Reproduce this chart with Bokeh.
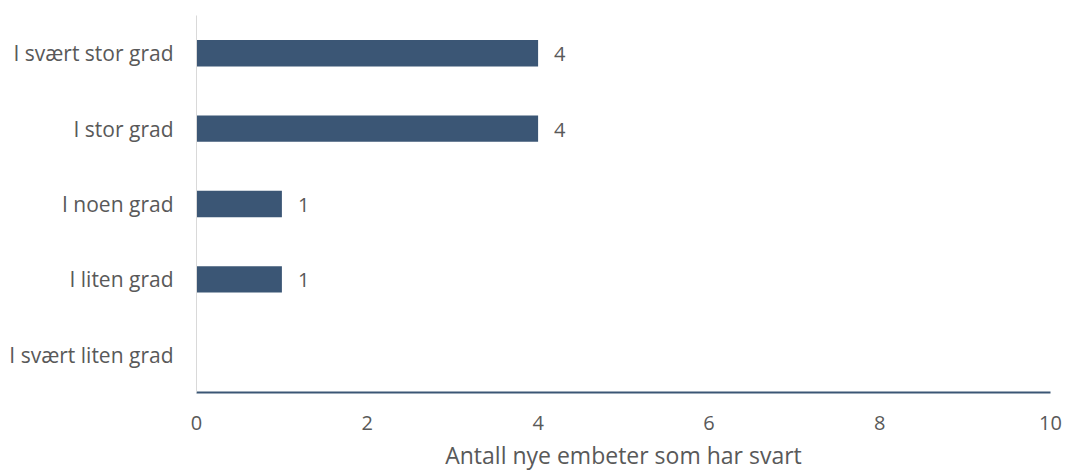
from bokeh.plotting import figure
from bokeh.models import FactorRange, Range1d, ColumnDataSource, LabelSet, FixedTicker
from bokeh.core.properties import value
from bokeh.embed import file_html
from bokeh.resources import INLINE

categories = ["I svært stor grad", "I stor grad", "I noen grad", "I liten grad", "I svært liten grad"]
values = [4, 4, 1, 1, 0]
x_ticks = [0, 2, 4, 6, 8, 10]
x_title = "Antall nye embeter som har svart"

BAR = "#3B5675"
TXT = "#595959"
FONT = "Open Sans"

W, H = 1067, 474
p = figure(width=W, height=H, output_backend="svg", toolbar_location=None,
           y_range=FactorRange(*list(reversed(categories)), range_padding=0),
           x_range=Range1d(0, 10),
           min_border_left=196, min_border_right=W - 1050, min_border_top=15,
           min_border_bottom=H - 392)
p.outline_line_color = None
p.grid.grid_line_color = None

src = ColumnDataSource(dict(cat=categories, val=values))
p.hbar(y="cat", right="val", left=0, height=0.35, source=src, color=BAR, line_color=None)

lab_src = ColumnDataSource(dict(cat=[c for c, v in zip(categories, values) if v > 0],
                                val=[v for v in values if v > 0],
                                txt=[str(v) for v in values if v > 0]))
labels = LabelSet(x="val", y="cat", text="txt", source=lab_src, x_offset=16, y_offset=-1,
                  text_align="left", text_baseline="middle",
                  text_font=value(FONT), text_font_size="20px", text_color=TXT)
p.add_layout(labels)

xa = p.xaxis[0]
xa.ticker = FixedTicker(ticks=x_ticks)
xa.axis_line_color = BAR
xa.axis_line_width = 2
xa.major_tick_line_color = None
xa.minor_tick_line_color = None
xa.major_label_standoff = 17
xa.major_label_text_font = FONT
xa.major_label_text_font_size = "20px"
xa.major_label_text_color = TXT
xa.axis_label = x_title
xa.axis_label_standoff = 6
xa.axis_label_text_font = FONT
xa.axis_label_text_font_size = "23px"
xa.axis_label_text_font_style = "normal"
xa.axis_label_text_color = TXT

ya = p.yaxis[0]
ya.axis_line_color = "#D9D9D9"
ya.axis_line_width = 1
ya.major_tick_line_color = None
ya.minor_tick_line_color = None
ya.major_label_standoff = 17
ya.major_label_text_font = FONT
ya.major_label_text_font_size = "21px"
ya.major_label_text_color = TXT

open("out.html", "w").write(file_html(p, INLINE))
